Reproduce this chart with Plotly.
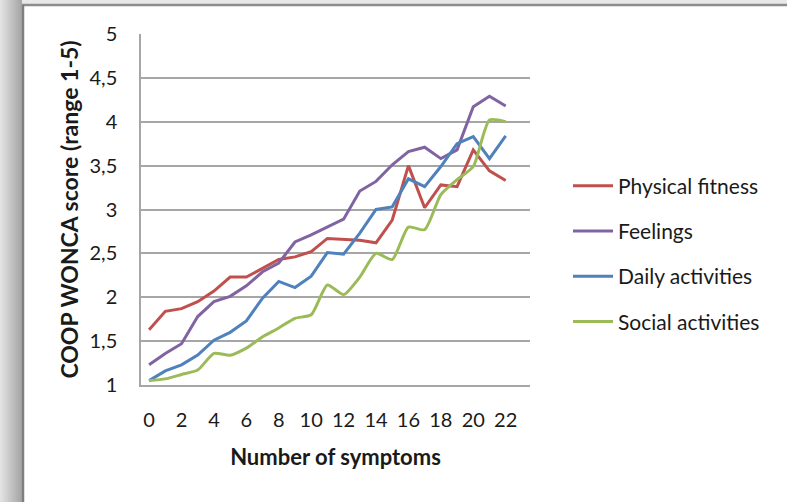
import plotly.graph_objects as go

# ---- data ----
symptoms = list(range(23))
x_tick_values = list(range(0, 23, 2))
y_tick_values = [1, 1.5, 2, 2.5, 3, 3.5, 4, 4.5, 5]

physical_fitness = [1.63, 1.84, 1.87, 1.95, 2.07, 2.23, 2.23, 2.33, 2.43, 2.46, 2.52, 2.67,
                    2.66, 2.65, 2.62, 2.88, 3.50, 3.02, 3.28, 3.26, 3.68, 3.44, 3.33]
feelings = [1.23, 1.36, 1.47, 1.78, 1.95, 2.01, 2.13, 2.29, 2.39, 2.63, 2.71, 2.80,
            2.89, 3.21, 3.32, 3.51, 3.66, 3.71, 3.58, 3.68, 4.17, 4.29, 4.18]
daily_activities = [1.05, 1.16, 1.23, 1.34, 1.51, 1.60, 1.73, 1.99, 2.18, 2.11, 2.24, 2.51,
                    2.49, 2.73, 3.00, 3.03, 3.35, 3.26, 3.49, 3.75, 3.83, 3.58, 3.84]
social_activities = [1.05, 1.07, 1.12, 1.17, 1.36, 1.34, 1.42, 1.55, 1.65, 1.76, 1.80, 2.14,
                     2.03, 2.23, 2.50, 2.43, 2.80, 2.77, 3.17, 3.34, 3.49, 4.02, 4.00]

series_names = ["Physical fitness", "Feelings", "Daily activities", "Social activities"]
series_values = [physical_fitness, feelings, daily_activities, social_activities]
series_colors = ["#C0504D", "#8064A2", "#4F81BD", "#9BBB59"]
series_shapes = ["linear", "linear", "linear", "spline"]

W, H = 787, 502
ML, MR, MT, MB = 141, 257, 34, 117
PW, PH = W - ML - MR, H - MT - MB


def px_x(px):
    return (px - ML) / PW


def px_y(py):
    return (H - MB - py) / PH


fig = go.Figure()
for name, vals, col, shp in zip(series_names, series_values, series_colors, series_shapes):
    fig.add_trace(go.Scatter(
        x=symptoms, y=vals, name=name, mode="lines",
        line=dict(color=col, width=3, shape=shp, smoothing=0.6),
        legendgroup=name,
    ))

shapes = []
# left shadow gradient
grays = ["#e2e2e2", "#dcdcdc", "#d6d6d6", "#d0d0d0", "#cacaca", "#c4c4c4", "#bebebe", "#b8b8b8", "#b2b2b2", "#acacac", "#a8a8a8"]
for i, g in enumerate(grays):
    shapes.append(dict(type="rect", xref="paper", yref="paper",
                       x0=px_x(i * 2), x1=px_x(i * 2 + 2), y0=px_y(H), y1=px_y(0),
                       fillcolor=g, line=dict(width=0), layer="below"))
# top shadow
shapes.append(dict(type="rect", xref="paper", yref="paper",
                   x0=px_x(22), x1=px_x(W), y0=px_y(4), y1=px_y(0),
                   fillcolor="#e8e8e8", line=dict(width=0), layer="below"))
# frame lines
shapes.append(dict(type="line", xref="paper", yref="paper",
                   x0=px_x(22), x1=px_x(W), y0=px_y(5), y1=px_y(5),
                   line=dict(color="#8c8c8c", width=2.5)))
shapes.append(dict(type="line", xref="paper", yref="paper",
                   x0=px_x(23), x1=px_x(23), y0=px_y(5), y1=px_y(H),
                   line=dict(color="#7f7f7f", width=2.5)))

fig.update_layout(
    width=W, height=H,
    margin=dict(l=ML, r=MR, t=MT, b=MB),
    paper_bgcolor="white", plot_bgcolor="white",
    separators=",.",
    font=dict(family="Lato, Carlito, Calibri, sans-serif", size=20, color="#1a1a1a"),
    shapes=shapes,
    showlegend=True,
    legend=dict(x=px_x(568), y=px_y(254), xanchor="left", yanchor="middle",
                font=dict(size=21, color="#1a1a1a"), tracegroupgap=15,
                itemwidth=40, bgcolor="rgba(0,0,0,0)"),
    xaxis=dict(range=[-0.5, 23.5], tickmode="array", tickvals=x_tick_values,
               ticktext=[str(v) for v in x_tick_values], showgrid=False,
               showline=True, linecolor="#a6a6a6", linewidth=1.5, ticks="",
               zeroline=False, ticklabelstandoff=16, tickfont=dict(size=20),
               title=dict(text="<b>Number of symptoms</b>", font=dict(size=22), standoff=20)),
    yaxis=dict(range=[1, 5], tickmode="array", tickvals=y_tick_values,
               showgrid=True, gridcolor="#a6a6a6", gridwidth=1.5,
               showline=True, linecolor="#a6a6a6", linewidth=1.5, ticks="",
               zeroline=False, ticklabelstandoff=18, tickfont=dict(size=20),
               title=dict(text="<b>COOP WONCA score (range 1-5)</b>", font=dict(size=23), standoff=4)),
)

fig.write_html("out.html")
